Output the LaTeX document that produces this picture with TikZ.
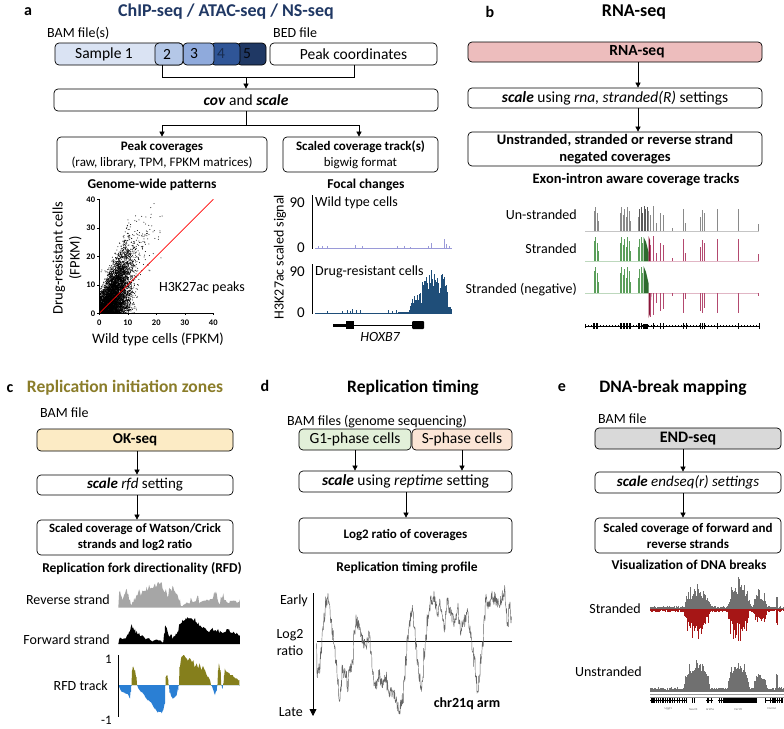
\documentclass[tikz,border=0pt]{standalone}
\usepackage{fontspec}
\setmainfont{Carlito}
\usetikzlibrary{arrows.meta}
\newcommand\fsz[2]{\fontsize{#1}{#2}\selectfont}
\definecolor{navy}{HTML}{203864}
\definecolor{cA}{HTML}{DAE3F3}
\definecolor{cB}{HTML}{B4C7E7}
\definecolor{cC}{HTML}{8FAADC}
\definecolor{cD}{HTML}{2F5597}
\definecolor{cE}{HTML}{1F3864}
\definecolor{rnapink}{HTML}{EDBDBD}
\definecolor{okfill}{HTML}{FCEBC5}
\definecolor{g1fill}{HTML}{E2F0D9}
\definecolor{sfill}{HTML}{FBE5D6}
\definecolor{endfill}{HTML}{D9D9D9}
\definecolor{olivet}{HTML}{8B7D2A}
\definecolor{rfdpos}{HTML}{857F1C}
\definecolor{rfdneg}{HTML}{2A7FD4}
\definecolor{chipblue}{HTML}{1F4E79}
\definecolor{wtlav}{HTML}{9A9AD8}
\definecolor{rgreen}{HTML}{5A9E5A}
\definecolor{rdgreen}{HTML}{2E6B2E}
\definecolor{rred}{HTML}{B3496F}
\definecolor{rdred}{HTML}{8A1538}
\definecolor{ered}{HTML}{A61616}
\definecolor{egray}{HTML}{707070}
\definecolor{ugray}{HTML}{8A8A8A}
\tikzset{
 bx/.style={draw, line width=0.7pt, rounded corners=4pt, inner sep=0pt, align=center},
 ar/.style={-{Triangle[length=5pt,width=5pt]}, line width=0.6pt},
 ln/.style={line width=0.6pt},
 plbl/.style={inner sep=0pt, font=\bfseries\fsz{16}{19}},
 ttl/.style={inner sep=0pt, font=\bfseries\fsz{18}{21}},
 hdr/.style={inner sep=0pt, font=\bfseries\fsz{14}{17}},
 tx/.style={inner sep=0pt, font=\fsz{14}{17}},
}
\begin{document}
\begin{tikzpicture}[x=1pt,y=-1pt,
  declare function={bump(\a,\c,\w)=max(0,1-((\a-\c)/\w)*((\a-\c)/\w));}]
\useasboundingbox (0,0) rectangle (784,728);
\fill[white] (0,0) rectangle (784,728);
\pgfmathsetseed{42}
% ================= PANEL A =================
\node[plbl] (la) at (28,12) {a};
\node[ttl, text=navy] (ta) at (226,12) {ChIP-seq / ATAC-seq / NS-seq};
\node[tx, anchor=west] (bam) at (47,33) {BAM file(s)};
\node[tx, anchor=west] (bed) at (273,33) {BED file};
\node[bx, fill=cE, minimum width=29pt, minimum height=22pt] (s5) at (251.5,54) {};
\node[bx, fill=cD, minimum width=29pt, minimum height=22pt] (s4) at (225.5,54) {};
\node[bx, fill=cC, minimum width=31pt, minimum height=22pt] (s3) at (198.5,54) {};
\node[bx, fill=cA, minimum width=128pt, minimum height=22pt] (s1) at (119,54) {};
\node[bx, fill=cB, minimum width=28pt, minimum height=22pt] (s2) at (169,54) {};
\node[tx, font=\fsz{15.5}{18}] (t1) at (104,54) {Sample 1};
\node[tx, font=\fsz{15.5}{18}] (t2) at (167,54) {2};
\node[tx, font=\fsz{15.5}{18}] (t3) at (194,54) {3};
\node[tx, font=\fsz{15.5}{18}, text=cE!80!black] (t4) at (221,54) {4};
\node[tx, font=\fsz{15.5}{18}, text=black!85!cE] (t5) at (247,54) {5};
\node[bx, minimum width=167pt, minimum height=22pt, font=\fsz{15.5}{18}] (pc) at (353.5,54) {Peak coordinates};
\coordinate (j1) at (162,77);
\coordinate (j2) at (354,77);
\coordinate (j3) at (246,77);
\draw[ln] (j1 |- s2.south) -- (j1) -- (j2) -- (j2 |- pc.south);
\node[bx, minimum width=384pt, minimum height=22pt, font=\fsz{15.5}{18}] (cov) at (246,100) {\textbf{\textit{cov}} and \textbf{\textit{scale}}};
\draw[ar] (j3) -- (cov.north);
\node[bx, minimum width=210pt, minimum height=35pt, font=\fsz{13}{16}] (pk) at (162,154.5) {\textbf{Peak coverages}\\(raw, library, TPM, FPKM matrices)};
\node[bx, minimum width=155pt, minimum height=35pt, font=\fsz{13}{16}] (sc) at (360.5,154.5) {\textbf{Scaled coverage track(s)}\\bigwig format};
\coordinate (j4) at (246,125);
\coordinate (j5) at (162,125);
\coordinate (j6) at (359,125);
\draw[ln] (cov.south) -- (j4);
\draw[ln] (j5) -- (j6);
\draw[ar] (j5) -- (j5 |- pk.north);
\draw[ar] (j6) -- (j6 |- sc.north);
\node[hdr, font=\bfseries\fsz{13.5}{16}] (gw) at (152,185) {Genome-wide patterns};
\node[hdr, font=\bfseries\fsz{13.5}{16}] (fc) at (366,185) {Focal changes};
% scatter
\begin{scope}[xshift=99.3pt, yshift=-313.3pt, x=2.85pt, y=2.85pt]
 \begin{scope}
  \clip (0,0) rectangle (40,40);
  \foreach \i in {1,...,5000}{
   \pgfmathsetmacro\sx{abs(5.2+3.1*(rand+rand+rand))}
   \pgfmathsetmacro\sy{abs(1.2*\sx+(2.6+0.35*\sx)*1.25*(rand+rand+rand))}
   \fill (\sx,\sy) circle[radius=0.5pt];
  }
  \foreach \i in {1,...,350}{
   \pgfmathsetmacro\sx{abs(9+5.5*(rand+rand+rand))}
   \pgfmathsetmacro\sy{abs(1.5*\sx+6*(rand+rand+rand))}
   \fill (\sx,\sy) circle[radius=0.5pt];
  }
 \end{scope}
 \draw[red, line width=0.8pt] (0,0) -- (40,40);
 \draw[line width=0.8pt] (0,40) -- (0,0) -- (40,0);
 \foreach \v in {0,10,20,30,40}{
  \draw[line width=0.6pt] (\v,0) -- ++(0,-2pt);
  \draw[line width=0.6pt] (0,\v) -- ++(-2pt,0);
  \node[inner sep=0pt, font=\bfseries\fsz{8.5}{10}] (xt\v) at (\v,-3.2) {\v};
  \node[inner sep=0pt, font=\bfseries\fsz{8.5}{10}, anchor=east] (yt\v) at (-1.4,\v) {\v};
 }
\end{scope}
\node[tx, font=\fsz{14.5}{17}] (xlab) at (158,339) {Wild type cells (FPKM)};
\node[tx, font=\fsz{14.5}{17}, rotate=90, align=center] (ylab) at (67,258) {Drug-resistant cells\\(FPKM)};
\node[tx] (h3) at (202,288) {H3K27ac peaks};
% focal changes
\node[tx, rotate=90] (sig) at (280,257) {H3K27ac scaled signal};
\node[tx, font=\fsz{15}{18}, anchor=east] (n90a) at (305,203) {90};
\node[tx, font=\fsz{15}{18}, anchor=east] (n0a) at (305,248) {0};
\node[tx, font=\fsz{15}{18}, anchor=east] (n90b) at (305,272) {90};
\node[tx, font=\fsz{15}{18}, anchor=east] (n0b) at (305,313) {0};
\draw[line width=0.7pt] (312,195) -- (312,249);
\draw[line width=0.7pt] (312,264) -- (312,314);
\node[tx, anchor=west] (wt) at (315,203) {Wild type cells};
\node[tx, anchor=west] (dr) at (315,272) {Drug-resistant cells};
\draw[wtlav, line width=0.5pt] (315,248.5) -- (452,248.5);
\foreach \x/\h in {318/3,322/3,327/3,355/4,362/3,397/3,404/3,410/2,428/3,431/6,444/10,446/5,449/3}
  \draw[wtlav, line width=0.7pt] (\x,248.5) -- (\x,{248.5-\h});
\draw[chipblue, line width=0.5pt] (315,313) -- (452,313);
\foreach \x/\h in {327/2,342/2,347/3,350/2,352/4,356/3,360/3,388/3,392/2,396/3}
  \draw[chipblue, line width=0.7pt] (\x,313) -- (\x,{313-\h});
\foreach \x in {398,398.8,...,452}{
  \pgfmathsetmacro\hh{1+(44*sqrt(bump(\x,435,13))+20*sqrt(bump(\x,419,10))+9*bump(\x,447,7))*(0.45+0.55*rnd)}
  \draw[chipblue, line width=0.8pt] (\x,313) -- (\x,{313-\hh});
}
\fill (333,323.5) rectangle (346,326.5);
\fill (346,321) rectangle (354,329);
\draw[line width=0.5pt] (354,325) -- (412,325);
\fill[rounded corners=1pt] (412,321) rectangle (424,329);
\node[tx, font=\itshape\fsz{14}{17}] (hox) at (380,337) {HOXB7};
% ================= PANEL B =================
\node[plbl] (lb) at (490,12) {b};
\node[ttl] (tb) at (634,12) {RNA-seq};
\node[bx, fill=rnapink, minimum width=294pt, minimum height=20pt] (rb1) at (615,52) {};
\node[inner sep=0pt, font=\bfseries\fsz{15.5}{18}] (rb1t) at (637,52) {RNA-seq};
\node[bx, minimum width=294pt, minimum height=20pt, font=\fsz{15.5}{18}] (rb2) at (615,98) {\textbf{\textit{scale}} using \textit{rna, stranded(R)} settings};
\node[bx, minimum width=294pt, minimum height=34pt, font=\bfseries\fsz{14.5}{17.5}] (rb3) at (615,149) {Unstranded, stranded or reverse strand\\negated coverages};
\coordinate (b1) at (638,62);
\coordinate (b2) at (638,108);
\draw[ar] (b1) -- (b1 |- rb2.north);
\draw[ar] (b2) -- (b2 |- rb3.north);
\node[hdr, font=\bfseries\fsz{14.5}{17}] (eia) at (636,180) {Exon-intron aware coverage tracks};
\node[tx, anchor=east] (us) at (577,215) {Un-stranded};
\node[tx, anchor=east] (st) at (577,249) {Stranded};
\node[tx, anchor=east] (sn) at (577,290) {Stranded (negative)};
\draw[ugray!50, line width=0.4pt] (585,231) -- (759,231);
\draw[rgreen!40, line width=0.4pt] (585,261) -- (648,261);
\draw[rred!40, line width=0.4pt] (648,261) -- (759,261);
\draw[rgreen!40, line width=0.4pt] (585,293) -- (648,293);
\draw[rred!40, line width=0.4pt] (648,293) -- (759,293);
\foreach \x/\h in {594/20,595.5/24,597/18,598.5/10,620/18,621.5/24,623/16,624.5/22,626/14,627.5/24,629/20,630.5/10,638/14,639.5/22,641/24,642.5/18,644/25,645.5/22,647/24,648.5/20,650/16,653/25,656/8,660/18,663/16,672/3,683/22,685.5/8,700/14,702/21,704/18,717/22,738/22,758/7}
  \draw[ugray, line width=0.6pt] (\x,231) -- (\x,{231-\h});
\foreach \x/\h in {639.5/22,641/24,642.5/18,644/25,645.5/22,647/24}
  \draw[black!65, line width=0.6pt] (\x,231) -- (\x,{231-\h});
\foreach \x/\h in {594/20,595.5/24,597/18,598.5/10,620/18,621.5/24,623/16,624.5/22,626/14,627.5/24,629/20,630.5/10,638/14,639.5/22,641/24,642.5/18}{
  \draw[rgreen, line width=0.6pt] (\x,261) -- (\x,{261-\h});
  \draw[rgreen, line width=0.6pt] (\x,293) -- (\x,{293-1.1*\h});
}
\fill[rdgreen] (643.5,261) -- (643.5,237) -- (646,242) -- (648.5,252) -- (648.5,261) -- cycle;
\fill[rdgreen] (643.5,293) -- (643.5,266) -- (646,272) -- (648.5,283) -- (648.5,293) -- cycle;
\fill[rdred] (648.5,261) -- (648.5,236) -- (650,240) -- (651,261) -- cycle;
\foreach \x/\h in {650/16,653/25,656/8,660/18,663/16,672/3,683/22,685.5/8,700/14,702/21,704/18,717/22,738/22,758/7}
  \draw[rred, line width=0.6pt] (\x,261) -- (\x,{261-\h});
\fill[rdred] (648.5,293) -- (648.5,318) -- (650,314) -- (651.5,293) -- cycle;
\foreach \x/\h in {650/24,653/22,656/10,660/18,663/16,672/3,683/20,685.5/6,700/18,702/20,704/15,717/20,738/20,758/3}
  \draw[rred, line width=0.6pt] (\x,293) -- (\x,{293+\h});
\draw[line width=0.5pt] (585,326) -- (759,326);
\foreach \x in {588,591,...,757}
  \draw[line width=0.3pt] (\x,325) -- (\x,327);
\foreach \x in {593,594.5,596,597.5,620,621.5,623,624.5,626,627.5,629,630.5,638,639.5,641,653,660,663,683,686,700,702,704,717,738,759}
  \draw[line width=0.6pt] (\x,323) -- (\x,329);
\fill (642.5,323.5) rectangle (648,328.5);
\draw[line width=0.6pt] (585,324) -- (585,328);
% ================= PANEL C =================
\node[plbl] (lc) at (10,389) {c};
\node[ttl, font=\bfseries\fsz{17.5}{20}, text=olivet] (tc) at (125,388) {Replication initiation zones};
\node[tx, anchor=west] (cbam) at (40,413) {BAM file};
\node[bx, fill=okfill, minimum width=196pt, minimum height=22pt, font=\bfseries\fsz{15}{18}] (ok) at (135,440) {OK-seq};
\node[bx, minimum width=196pt, minimum height=20pt, font=\fsz{15}{18}] (rfd) at (135,485) {\textbf{\textit{scale}} \textit{rfd} setting};
\node[bx, minimum width=196pt, minimum height=35pt, font=\bfseries\fsz{12.7}{16}] (wc) at (135,537.5) {Scaled coverage of Watson/Crick\\strands and log2 ratio};
\coordinate (c1) at (137,451);
\coordinate (c2) at (137,495);
\draw[ar] (c1) -- (c1 |- rfd.north);
\draw[ar] (c2) -- (c2 |- wc.north);
\node[hdr, font=\bfseries\fsz{13.5}{16}] (rfdh) at (142,569) {Replication fork directionality (RFD)};
\node[tx, anchor=east] (rev) at (110,600) {Reverse strand};
\node[tx, anchor=east] (fwd) at (110,640) {Forward strand};
\node[tx, anchor=east] (rfdt) at (108,686) {RFD track};
\node[tx, font=\fsz{13}{16}, anchor=east] (one) at (112,659) {1};
\node[tx, font=\fsz{13}{16}, anchor=east] (mone) at (112,720) {-1};
\begin{scope}[xshift=0pt, yshift=-560pt, x=0.33333pt, y=-0.33333pt]
 \pgfmathsetseed{7}
 \fill[black!35] (355,143) \foreach \x/\y in {360/95,365/105,370/115,375/100,380/90,385/100,390/115,395/130,400/128,405/120,410/105,415/100,420/95,425/100,430/90,435/95,440/85,445/90,450/80,455/85,460/78,465/75,470/80,475/70,480/72,485/68,490/90,495/100,500/95,505/105,510/90,515/92,520/85,525/95,530/100,535/110,540/120,545/135,550/132,560/130,570/128,575/115,580/125,590/120,595/112,600/125,610/118,620/122,630/115,640/110,645/98,650/100,655/125,660/130,665/115,670/105,675/120,680/125,690/122,700/120,710/125,720/122}{ -- ({\x-2.5},{\y+8*rand}) -- (\x,{\y+5*rand}) } -- (720,143) -- cycle;
 \fill[black] (355,252) \foreach \x/\y in {360/235,370/232,380/230,385/225,390/215,395/195,400/200,405/210,410/215,415/220,420/225,430/232,440/235,450/240,460/242,470/240,480/243,490/242,495/225,497/195,500/200,505/220,510/230,515/225,520/235,525/228,530/220,535/210,540/195,545/190,550/185,555/180,560/175,565/172,570/175,575/172,580/180,585/178,590/185,595/190,600/195,610/200,620/210,630/215,640/210,650/215,655/205,660/215,670/218,680/210,690/215,700/218,710/220,720/222}{ -- ({\x-2.5},{\y+7*rand}) -- (\x,{\y+4*rand}) } -- (720,252) -- cycle;
 \newcommand\rfdpath{(355,375) \foreach \x/\y in {357/380,365/395,375/400,385/405,390/415,393/395,395/375,397/330,400/320,405/330,410/350,412/375,415/385,425/395,435/410,445/420,455/430,465/445,475/455,485/460,490/450,495/430,497/375,498/350,502/345,505/360,507/375,510/395,515/410,520/415,530/405,535/390,537/375,540/320,545/290,550/285,555/290,560/295,565/300,570/295,575/305,580/300,585/320,590/310,595/325,600/315,605/330,610/320,615/330,620/345,625/350,630/360,635/375,640/390,645/405,650/395,653/375,655/330,658/315,662/330,665/375,668/385,671/375,673/345,676/330,680/335,690/345,700/350,710/355,718/360,720/375}{ -- ({\x-1.5},{\y+5*rand}) -- (\x,\y) } -- (720,375) -- cycle}
 \begin{scope}
  \clip (340,250) rectangle (730,375);
  \pgfmathsetseed{11}
  \fill[rfdpos] \rfdpath;
 \end{scope}
 \begin{scope}
  \clip (340,375) rectangle (730,490);
  \pgfmathsetseed{11}
  \fill[rfdneg] \rfdpath;
 \end{scope}
 \draw[line width=0.8pt] (355,285) -- (355,470);
\end{scope}
% ================= PANEL D =================
\node[plbl] (ld) at (265,386) {d};
\node[ttl, font=\bfseries\fsz{17.5}{20}] (td) at (413,388) {Replication timing};
\node[tx] (dbam) at (377,422) {BAM files (genome sequencing)};
\node[bx, fill=g1fill, minimum width=112pt, minimum height=21pt, font=\fsz{15.5}{18}] (g1) at (355,439.5) {G1-phase cells};
\node[bx, fill=sfill, minimum width=100pt, minimum height=21pt, font=\fsz{15.5}{18}] (sp) at (462,439.5) {S-phase cells};
\node[bx, minimum width=213pt, minimum height=21pt, font=\fsz{15.5}{18}] (rt) at (405.5,481.5) {\textbf{\textit{scale}} using \textit{reptime} setting};
\node[bx, minimum width=213pt, minimum height=35pt, font=\bfseries\fsz{13}{16}] (lr) at (405.5,535.5) {Log2 ratio of coverages};
\draw[ar] (g1.south) -- (g1.south |- rt.north);
\draw[ar] (sp.south) -- (sp.south |- rt.north);
\coordinate (d1) at (406,492);
\draw[ar] (d1) -- (d1 |- lr.north);
\node[hdr, font=\bfseries\fsz{13.5}{16}] (rtp) at (407,568) {Replication timing profile};
\node[tx, anchor=east] (early) at (308,601) {Early};
\node[tx] (log2) at (290,635) {Log2};
\node[tx] (ratio) at (290,651) {ratio};
\node[tx, anchor=east] (late) at (303,712) {Late};
\coordinate (ax1) at (313,593);
\coordinate (ax2) at (313,716);
\draw[line width=0.8pt, -{Triangle[length=7pt,width=7pt]}] (ax1) -- (ax2);
\coordinate (hl1) at (317,641);
\coordinate (hl2) at (512,641);
\draw[line width=1pt] (hl1) -- (hl2);
\node[hdr] (chr) at (467,704) {chr21q arm};
\begin{scope}[xshift=260pt, yshift=-560pt, x=0.33333pt, y=-0.33333pt]
 \pgfmathsetseed{3}
 \draw[black!60, line width=0.45pt, line join=round] (170,250) \foreach \x/\y in {175/340,180/330,185/280,190/215,195/170,200/130,205/120,210/140,215/180,220/220,225/250,230/300,235/360,240/410,245/380,250/330,255/335,260/340,265/380,270/340,275/320,280/300,285/220,290/180,295/190,300/200,305/220,310/240,315/250,320/270,325/250,330/220,335/280,340/330,345/360,350/380,355/360,360/340,365/360,370/370,375/355,380/350,385/380,390/400,395/390,400/400,405/410,410/420,415/440,420/460,425/440,430/420,435/360,440/300,445/240,450/200,455/170,460/150,465/200,470/250,475/300,480/350,485/390,490/350,495/280,500/230,505/180,510/150,515/120,520/120,525/110,530/140,535/160,540/130,545/140,550/170,555/200,560/150,565/130,570/140,575/150,580/170,585/190,590/160,595/140,600/180,605/210,610/190,615/180,620/170,625/160,630/200,635/230,640/260,645/300,650/350,655/390,660/360,665/300,670/260,675/180,680/120,685/130,690/140,695/120,700/110,705/115,710/120,715/130,720/140,725/125,730/110,735/90,740/140,745/200,750/130,755/170}{ -- ({\x-4},{\y+20*rand}) -- ({\x-3},{\y+20*rand}) -- ({\x-2},{\y+20*rand}) -- ({\x-1},{\y+20*rand}) -- (\x,{\y+10*rand}) };
\end{scope}
% ================= PANEL E =================
\node[plbl] (le) at (562,388) {e};
\node[ttl, font=\bfseries\fsz{17.5}{20}] (te) at (673,388) {DNA-break mapping};
\node[tx, anchor=west] (ebam) at (598,419) {BAM file};
\node[bx, fill=endfill, minimum width=186pt, minimum height=21pt, font=\bfseries\fsz{16}{19}] (end) at (688,438.5) {END-seq};
\node[bx, minimum width=186pt, minimum height=21pt, font=\fsz{15}{18}] (es) at (688,482.5) {\textbf{\textit{scale}} \textit{endseq(r) settings}};
\node[bx, minimum width=186pt, minimum height=35pt, font=\bfseries\fsz{13}{16}] (fr) at (688,535.5) {Scaled coverage of forward and\\reverse strands};
\coordinate (e1) at (683,449);
\coordinate (e2) at (683,493);
\draw[ar] (e1) -- (e1 |- es.north);
\draw[ar] (e2) -- (e2 |- fr.north);
\node[hdr, font=\bfseries\fsz{13.5}{16}] (vis) at (689,565) {Visualization of DNA breaks};
\node[tx, anchor=east] (est) at (641,609) {Stranded};
\node[tx, anchor=east] (eun) at (642,672) {Unstranded};
\begin{scope}[xshift=530pt, yshift=-560pt, x=0.33333pt, y=-0.33333pt]
 \pgfmathsetseed{5}
 \foreach \x in {360,361.5,...,762}{
  \pgfmathsetmacro\hg{(2+7*rnd)+(88*sqrt(bump(\x,503,38))+102*sqrt(bump(\x,628,33))+62*sqrt(bump(\x,690,20)))*(0.3+0.7*rnd*rnd)+32*(\x>738)*(\x<742)}
  \pgfmathsetmacro\hr{(2+7*rnd)+(95*sqrt(bump(\x,500,38))+112*sqrt(bump(\x,625,32))+50*sqrt(bump(\x,690,20)))*(0.3+0.7*rnd*rnd)+40*(\x>738)*(\x<742)}
  \pgfmathsetmacro\hu{(4+9*rnd)+(100*sqrt(bump(\x,500,38))+98*sqrt(bump(\x,625,32))+58*sqrt(bump(\x,690,20)))*(0.5+0.5*rnd*rnd)+45*(\x>738)*(\x<742)}
  \draw[egray, line width=0.55pt] (\x,147) -- (\x,{147-\hg});
  \draw[ered, line width=0.55pt] (\x,147) -- (\x,{147+\hr});
  \draw[egray, line width=0.55pt] (\x,395) -- (\x,{395-\hu});
 }
 \draw[black!40, line width=0.5pt] (360,404) -- (765,404);
 \draw[black!40, line width=0.5pt] (360,411) -- (765,411);
 \draw[line width=0.4pt] (360,422) -- (470,422);
 \foreach \x in {362,367,372,378,384,390,397,404,411,418,425,432,440,447,455,462,468}
   \fill (\x,415) rectangle ++(3.5,14);
 \fill (486,415) rectangle ++(3,14);
 \fill (493,415) rectangle ++(3,14);
 \draw[line width=0.4pt] (528,422) -- (550,422);
 \fill (532,415) rectangle ++(4,14);
 \fill (543,415) rectangle ++(4,14);
 \draw[line width=0.4pt] (565,422) -- (680,422);
 \foreach \x in {567,573,580,586,592,598,604,610,616,622,628,634,640,646,652,658,664,670,676}
   \fill (\x,415) rectangle ++(4,14);
 \draw[line width=0.4pt] (705,422) -- (760,422);
 \fill (705,415) rectangle ++(2,14);
 \fill (720,415) rectangle ++(2,14);
 \foreach \x in {727,733,740,747,754}
   \fill (\x,415) rectangle ++(3.5,14);
 \node[inner sep=0pt, font=\fsz{3}{4}, text=black!60] (g1l) at (415,447) {Uggt1};
 \node[inner sep=0pt, font=\fsz{3}{4}, text=black!60] (g2l) at (490,447) {Neurl3};
 \node[inner sep=0pt, font=\fsz{3}{4}, text=black!60] (g3l) at (540,447) {Arid5a};
 \node[inner sep=0pt, font=\fsz{3}{4}, text=black!60] (g4l) at (625,447) {Fer1l5};
 \node[inner sep=0pt, font=\fsz{3}{4}, text=black!60] (g5l) at (725,447) {Cnnm4};
\end{scope}
\end{tikzpicture}
\end{document}
